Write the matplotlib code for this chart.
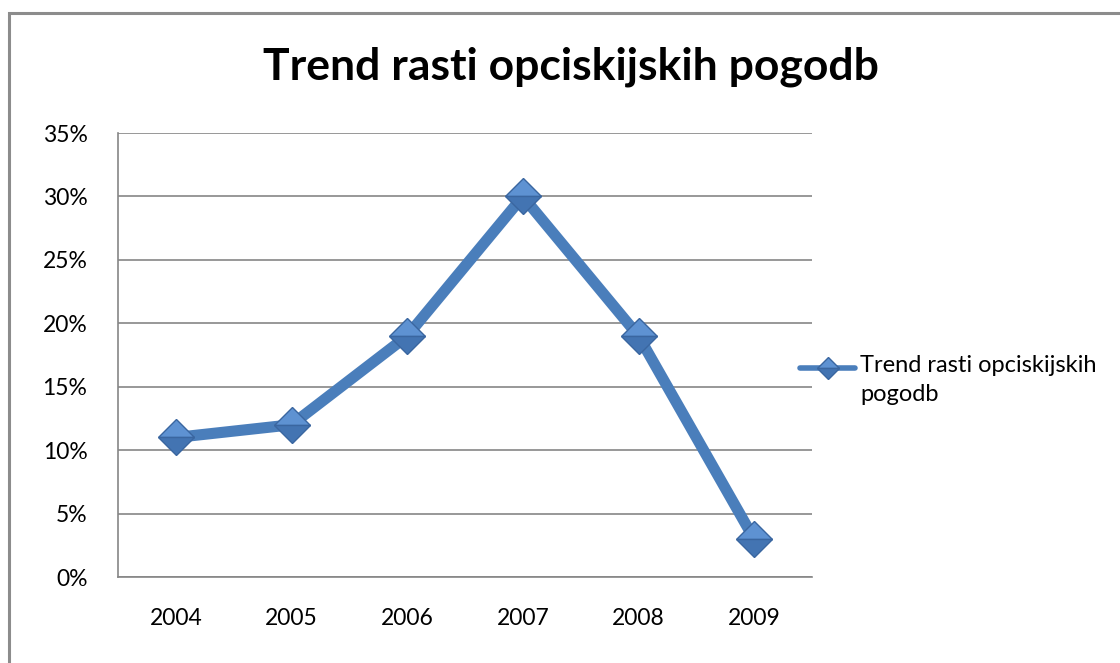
import matplotlib.pyplot as plt
from matplotlib.lines import Line2D
from matplotlib.patches import Rectangle
from matplotlib.ticker import PercentFormatter

years = ["2004", "2005", "2006", "2007", "2008", "2009"]
growth = [11, 12, 19, 30, 19, 3]  # % growth per year
y_ticks = [0, 5, 10, 15, 20, 25, 30, 35]

title = "Trend rasti opciskijskih pogodb"
series_label = "Trend rasti opciskijskih\npogodb"

LINE_BLUE = "#4A7EBB"
marker_style = dict(marker="D", fillstyle="top", markerfacecolor="#5E92D2",
                    markerfacecoloralt="#4374B2", markeredgecolor="#3A66A0",
                    markeredgewidth=1.0)

plt.rcParams['font.family'] = ['Lato', 'DejaVu Sans']

W, H = 1120, 663
fig = plt.figure(figsize=(W / 100, H / 100), dpi=100)
fig.patch.set_facecolor("white")

# outer chart border (runs off right/bottom edge)
fig.patches.append(Rectangle((9 / W, -0.05), 1.2, (H - 13) / H + 0.05,
                             transform=fig.transFigure, fill=False,
                             edgecolor="#8c8c8c", linewidth=2.2))

ax = fig.add_axes([118 / W, 86 / H, (812 - 118) / W, (577 - 133) / H])

x = list(range(len(years)))
ax.plot(x, growth, color=LINE_BLUE, linewidth=8, markersize=18.5,
        zorder=3, **marker_style)

ax.set_xlim(-0.5, len(years) - 0.5)
ax.set_ylim(0, 35)
ax.set_xticks(x)
ax.set_xticklabels(years)
ax.set_yticks(y_ticks)
ax.yaxis.set_major_formatter(PercentFormatter(decimals=0))

ax.grid(axis="y", color="#868686", linewidth=1.2)
ax.set_axisbelow(True)
for side in ("top", "right"):
    ax.spines[side].set_visible(False)
for side in ("left", "bottom"):
    ax.spines[side].set_color("#868686")
    ax.spines[side].set_linewidth(1.2)
ax.tick_params(length=0, labelsize=16.5, colors="black")
ax.tick_params(axis="x", pad=22)
ax.tick_params(axis="y", pad=22)

fig.text(571 / W, 1 - 67 / H, title, ha="center", va="center",
         fontsize=32, fontweight="bold")

# legend entry: short line with marker, label beside it
fig.add_artist(Line2D([800 / W, 855 / W], [1 - 368 / H] * 2,
                      transform=fig.transFigure, color=LINE_BLUE,
                      linewidth=4, solid_capstyle="round"))
fig.add_artist(Line2D([827.5 / W], [1 - 368 / H], transform=fig.transFigure,
                      linestyle="none", markersize=11, **marker_style))
fig.text(860 / W, 1 - 355 / H, series_label, ha="left", va="top",
         fontsize=17, linespacing=1.45)

fig.savefig("out.png", dpi=100)
